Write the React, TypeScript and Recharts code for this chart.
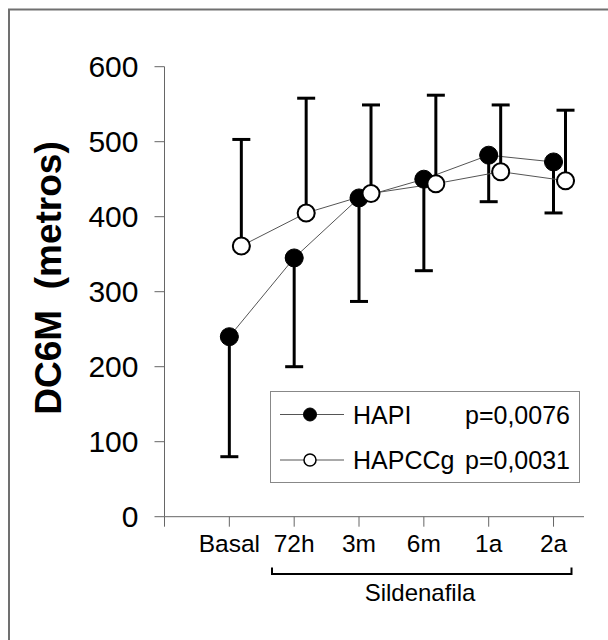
import { CSSProperties } from 'react';
import { LineChart, Line, XAxis, YAxis, ErrorBar } from 'recharts';

// categories and values
const categories = ['Basal', '72h', '3m', '6m', '1a', '2a'];
const hapiMean = [240, 345, 425, 450, 482, 473];
const hapiLower = [80, 200, 287, 328, 420, 405];
const hapccgMean = [361, 405, 431, 444, 460, 448];
const hapccgUpper = [503, 558, 549, 562, 549, 542];
const yTicks = [0, 100, 200, 300, 400, 500, 600];
const xTicks = [0, 1, 2, 3, 4, 5, 6];
const tickLabels = ['', ...categories];
const legendItems = [
  { name: 'HAPI', p: 'p=0,0076', filled: true },
  { name: 'HAPCCg', p: 'p=0,0031', filled: false },
];

// open circles are drawn a little to the right of the filled ones
const dodge = 0.185;

const hapiData = categories.map((c, i) => ({
  x: i + 1,
  y: hapiMean[i],
  err: [hapiMean[i] - hapiLower[i], 0],
}));
const hapccgData = categories.map((c, i) => ({
  x: i + 1 + dodge,
  y: hapccgMean[i],
  err: [0, hapccgUpper[i] - hapccgMean[i]],
}));

const FONT = '"Liberation Sans", Arial, sans-serif';

export default function App() {
  const pageStyle: CSSProperties = {
    position: 'absolute',
    left: 0,
    top: 0,
    width: 608,
    height: 640,
    background: '#fff',
    fontFamily: FONT,
  };

  return (
    <div style={pageStyle}>
      <LineChart
        width={608}
        height={640}
        margin={{ top: 66.7, right: 24, bottom: 63.3, left: 84.5 }}
      >
        <XAxis
          type="number"
          dataKey="x"
          domain={[0, 6.47]}
          ticks={xTicks}
          interval={0}
          tickFormatter={(v) => tickLabels[v] ?? ''}
          height={60}
          tickSize={10}
          tickMargin={8}
          stroke="#666"
          tick={{ fill: '#000', fontSize: 24.5, fontFamily: FONT }}
        />
        <YAxis
          type="number"
          domain={[0, 600]}
          ticks={yTicks}
          interval={0}
          width={80}
          tickSize={10}
          tickMargin={16}
          stroke="#666"
          tick={{ fill: '#000', fontSize: 30, fontFamily: FONT }}
        />
        <Line
          data={hapiData}
          dataKey="y"
          stroke="#555"
          strokeWidth={1}
          dot={{ r: 9, fill: '#000', stroke: '#000', strokeWidth: 1 }}
          activeDot={false}
          isAnimationActive={false}
        >
          <ErrorBar dataKey="err" direction="y" width={9} stroke="#000" strokeWidth={3} isAnimationActive={false} />
        </Line>
        <Line
          data={hapccgData}
          dataKey="y"
          stroke="#555"
          strokeWidth={1}
          dot={{ r: 8.5, fill: '#fff', stroke: '#000', strokeWidth: 2 }}
          activeDot={false}
          isAnimationActive={false}
        >
          <ErrorBar dataKey="err" direction="y" width={9} stroke="#000" strokeWidth={3} isAnimationActive={false} />
        </Line>
      </LineChart>

      {/* frame, axis title, bracket and legend */}
      <svg
        width={608}
        height={640}
        style={{ position: 'absolute', left: 0, top: 0, pointerEvents: 'none' }}
      >
        <path d="M9 640 V9.5 H608" fill="none" stroke="#707070" strokeWidth={2} />
        <text
          x={61}
          y={278}
          transform="rotate(-90 61 278)"
          textAnchor="middle"
          fontFamily={FONT}
          fontWeight="bold"
          fontSize={37}
          style={{ whiteSpace: 'pre' }}
        >
          {'DC6M  (metros)'}
        </text>
        <path d="M272 567.5 V574 H571.5 V567.5" fill="none" stroke="#000" strokeWidth={2} />
        <text x={420} y={601} textAnchor="middle" fontFamily={FONT} fontSize={24}>
          Sildenafila
        </text>

        <rect x={270.5} y={391.5} width={309} height={91} fill="#fff" stroke="#888" strokeWidth={1} />
        {legendItems.map((item, i) => {
          const cy = 414.5 + i * 45.5;
          return (
            <g key={item.name}>
              <line x1={280} x2={344} y1={cy} y2={cy} stroke="#555" strokeWidth={1} />
              <circle
                cx={310}
                cy={cy}
                r={item.filled ? 6.5 : 6}
                fill={item.filled ? '#000' : '#fff'}
                stroke="#000"
                strokeWidth={item.filled ? 1 : 1.5}
              />
              <text x={353} y={cy + 9} fontFamily={FONT} fontSize={25}>
                {item.name}
              </text>
              <text x={465} y={cy + 9} fontFamily={FONT} fontSize={25}>
                {item.p}
              </text>
            </g>
          );
        })}
      </svg>
    </div>
  );
}
